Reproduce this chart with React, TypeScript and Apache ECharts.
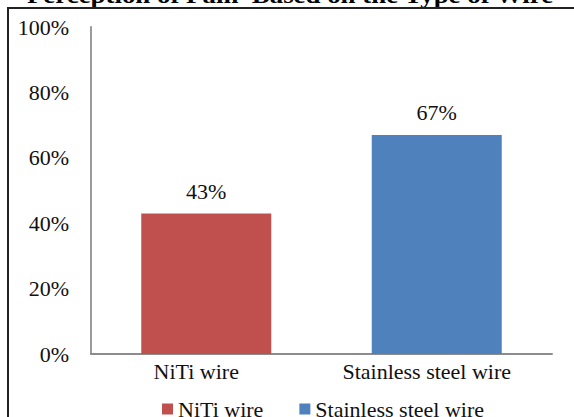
import React, { useEffect, useRef } from "react";
import * as echarts from "echarts";

const categories = ["NiTi wire", "Stainless steel wire"];
const values = [43, 67];
const colors = ["#C0504D", "#4F81BD"];
const yTicks = { min: 0, max: 100, interval: 20 };
const titleText = "Perception of Pain  Based on the Type of Wire";

const FONT = '"Liberation Serif", "Times New Roman", serif';

export default function App() {
  const ref = useRef<HTMLDivElement>(null);

  useEffect(() => {
    if (!ref.current) return;
    const chart = echarts.init(ref.current, undefined, { renderer: "svg" });

    const series = categories.map((name, i) => ({
      name,
      type: "bar",
      data: values.map((v, j) => (j === i ? v : "-")),
      barGap: "-100%",
      barWidth: 130,
      itemStyle: { color: colors[i] },
      label: {
        show: true,
        position: "top",
        distance: 11,
        formatter: "{c}%",
        fontFamily: FONT,
        fontSize: 22,
        color: "#111",
      },
    }));

    chart.setOption({
      animation: false,
      backgroundColor: "#fff",
      grid: { left: 91, right: 22, top: 27, bottom: 63, containLabel: false },
      legend: {
        data: categories,
        left: 157,
        top: 393,
        icon: "rect",
        itemWidth: 11,
        itemHeight: 11,
        itemGap: 36,
        textStyle: { fontFamily: FONT, fontSize: 22, color: "#111" },
      },
      xAxis: {
        type: "category",
        data: categories,
        axisLine: { show: true, lineStyle: { color: "#8c8c8c", width: 2 } },
        axisTick: { show: false },
        axisLabel: {
          fontFamily: FONT,
          fontSize: 22,
          color: "#111",
          margin: 6,
          padding: [0, 20, 0, 0],
        },
      },
      yAxis: {
        type: "value",
        min: yTicks.min,
        max: yTicks.max,
        interval: yTicks.interval,
        axisLine: { show: true, lineStyle: { color: "#9a9a9a", width: 2 } },
        axisTick: { show: false },
        splitLine: { show: false },
        axisLabel: {
          formatter: "{value}%",
          fontFamily: FONT,
          fontSize: 22,
          color: "#111",
          margin: 22,
        },
      },
      series,
      graphic: [
        {
          type: "text",
          x: 290,
          y: -5,
          scaleX: 1.12,
          style: {
            text: titleText,
            font: `bold 24px ${FONT}`,
            fill: "#000",
            textAlign: "center",
            textVerticalAlign: "middle",
          },
        },
        {
          type: "line",
          shape: { x1: 7, y1: 8, x2: 574, y2: 8 },
          style: { stroke: "#222", lineWidth: 2 },
        },
        {
          type: "line",
          shape: { x1: 8, y1: 7, x2: 8, y2: 417 },
          style: { stroke: "#222", lineWidth: 2 },
        },
      ],
    });

    return () => chart.dispose();
  }, []);

  return (
    <div
      ref={ref}
      style={{ position: "absolute", left: 0, top: 0, width: 574, height: 417 }}
    />
  );
}
